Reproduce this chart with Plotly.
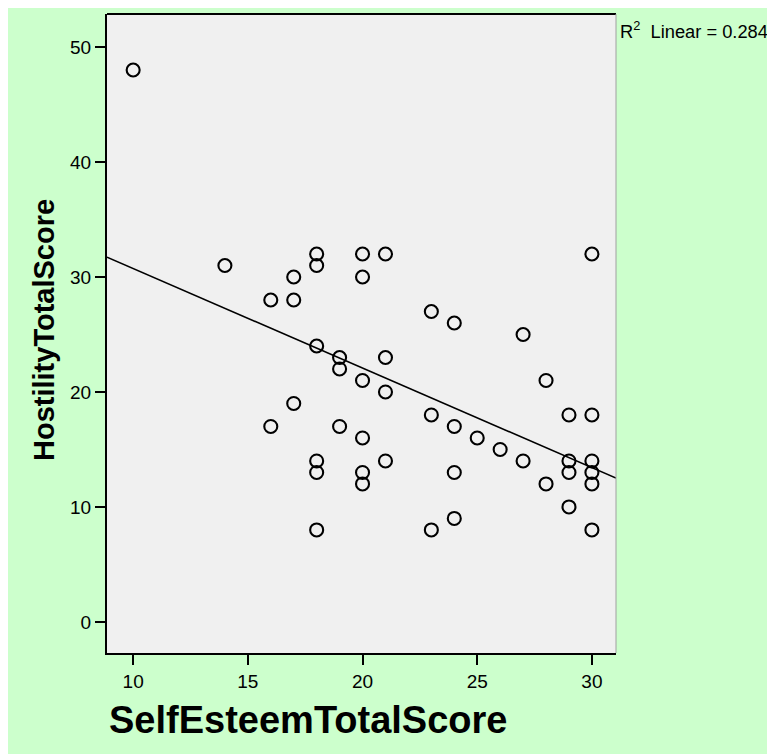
import plotly.graph_objects as go

# Data
self_esteem = [10, 14, 16, 16, 17, 17, 17,
               18, 18, 18, 18, 18, 18,
               19, 19, 19,
               20, 20, 20, 20, 20, 20,
               21, 21, 21, 21,
               23, 23, 23,
               24, 24, 24, 24,
               25, 26, 27, 27, 28, 28,
               29, 29, 29, 29,
               30, 30, 30, 30, 30, 30]
hostility = [48, 31, 28, 17, 30, 28, 19,
             32, 31, 24, 14, 13, 8,
             23, 22, 17,
             32, 30, 21, 16, 13, 12,
             32, 23, 20, 14,
             27, 18, 8,
             26, 17, 13, 9,
             16, 15, 25, 14, 21, 12,
             18, 14, 13, 10,
             32, 18, 14, 13, 12, 8]

# Fit line
fit_intercept = 39.4
fit_slope = -0.866
r2_text = "R<sup>2</sup>  Linear = 0.284"

x_ticks = [10, 15, 20, 25, 30]
y_ticks = [0, 10, 20, 30, 40, 50]
x_range = [8.86, 31.05]
y_range = [-2.7, 52.87]

FONT = "Liberation Sans, Arial, sans-serif"

fig = go.Figure()

fig.add_trace(go.Scatter(
    x=x_range,
    y=[fit_intercept + fit_slope * v for v in x_range],
    mode="lines",
    line=dict(color="black", width=1.6),
    hoverinfo="skip",
    showlegend=False,
))

fig.add_trace(go.Scatter(
    x=self_esteem, y=hostility,
    mode="markers",
    marker=dict(symbol="circle-open", size=13, color="black",
                line=dict(width=2.1, color="black")),
    showlegend=False,
))

fig.update_layout(
    width=775, height=754,
    margin=dict(l=99, r=167, t=6, b=109),
    paper_bgcolor="#CCFFCC",
    plot_bgcolor="#F0F0F0",
    font=dict(family=FONT, color="black", size=19),
    xaxis=dict(range=x_range, tickvals=x_ticks, showgrid=False, zeroline=False,
               showline=True, linecolor="black", linewidth=2, mirror=False,
               ticks="outside", ticklen=10, tickwidth=2, tickcolor="black",
               tickfont=dict(size=19), fixedrange=True),
    yaxis=dict(range=y_range, tickvals=y_ticks, showgrid=False, zeroline=False,
               showline=True, linecolor="black", linewidth=2, mirror=False,
               ticks="outside", ticklen=10, tickwidth=2, tickcolor="black",
               tickfont=dict(size=19), fixedrange=True),
    shapes=[
        dict(type="line", xref="paper", yref="paper", x0=0, x1=1, y0=1, y1=1,
             line=dict(color="black", width=2)),
        dict(type="line", xref="paper", yref="paper", x0=1, x1=1, y0=0, y1=1,
             line=dict(color="#A0A0A0", width=1)),
    ],
    annotations=[
        dict(text=r2_text, xref="paper", yref="paper", x=1.004, y=0.975,
             xanchor="left", yanchor="middle", showarrow=False,
             font=dict(size=18.3, family=FONT)),
        dict(text="<b>SelfEsteemTotalScore</b>", xref="paper", yref="paper",
             x=(308 - 107) / 509, y=-(720 - 653) / 639,
             xanchor="center", yanchor="middle", showarrow=False,
             font=dict(size=38, family=FONT)),
        dict(text="<b>HostilityTotalScore</b>", xref="paper", yref="paper",
             x=-(107 - 44) / 509, y=(653 - 330) / 639, textangle=-90,
             xanchor="center", yanchor="middle", showarrow=False,
             font=dict(size=29, family=FONT)),
    ],
)

fig.write_html("out.html")
